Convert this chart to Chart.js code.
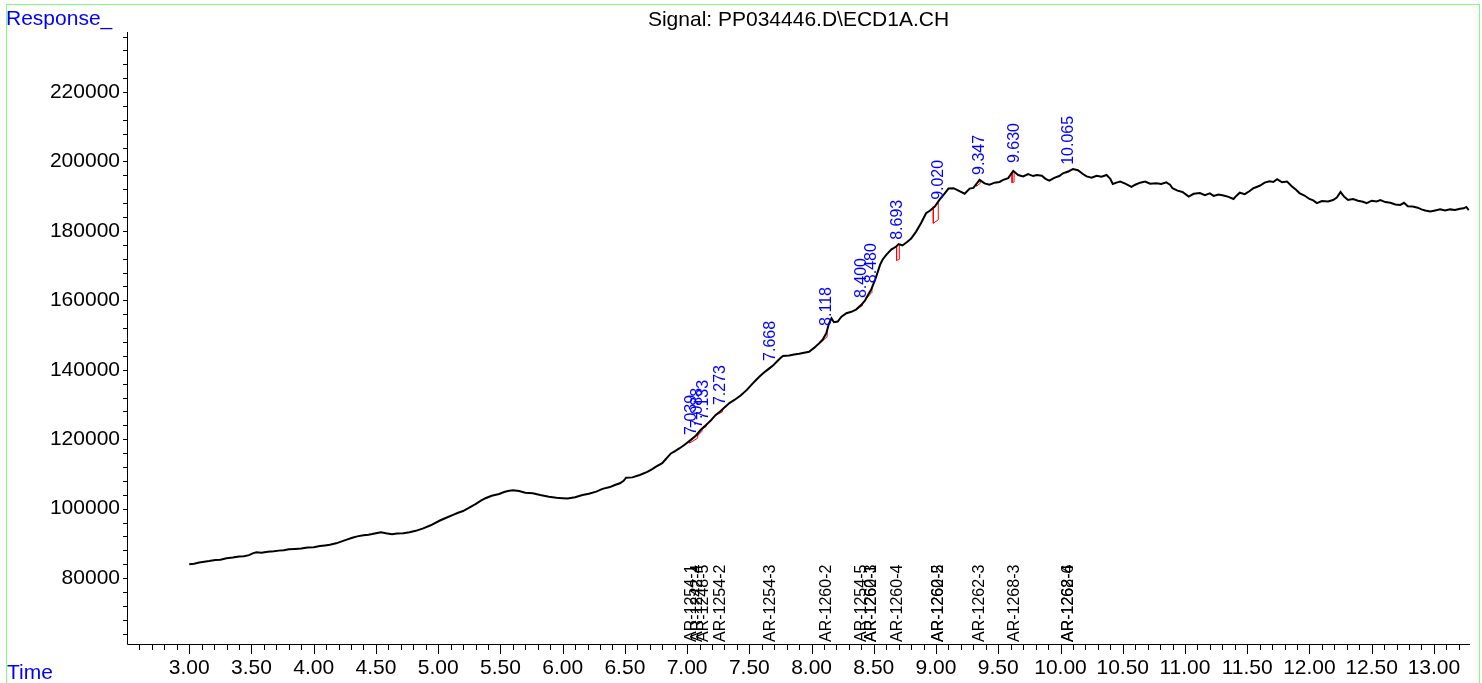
<!DOCTYPE html>
<html>
<head>
<meta charset="utf-8">
<title>Signal: PP034446.D\ECD1A.CH</title>
<script src="https://cdn.jsdelivr.net/npm/chart.js@4.4.1/dist/chart.umd.min.js"></script>
<style>
  html, body { margin: 0; padding: 0; background: #fff; overflow: hidden; }
  #wrap { width: 1482px; height: 683px; position: relative; }
</style>
</head>
<body>
<div id="wrap"><canvas id="myChart"></canvas></div>
<script>
// retention time (min) and detector response
const times = [
  3.00, 3.04, 3.08, 3.12, 3.16, 3.21, 3.25, 3.30, 3.35, 3.40, 3.44, 3.48, 3.51, 3.54, 3.58, 3.63, 3.68, 3.72, 3.76, 3.80,
  3.85, 3.90, 3.95, 4.00, 4.05, 4.09, 4.13, 4.18, 4.22, 4.26, 4.31, 4.35, 4.40, 4.44, 4.47, 4.51, 4.54, 4.58, 4.63, 4.67,
  4.72, 4.77, 4.82, 4.88, 4.94, 5.01, 5.06, 5.12, 5.16, 5.20, 5.25, 5.30, 5.34, 5.38, 5.43, 5.49, 5.53, 5.56, 5.60, 5.65,
  5.70, 5.76, 5.82, 5.89, 5.95, 6.00, 6.04, 6.10, 6.16, 6.21, 6.27, 6.32, 6.38, 6.42, 6.46, 6.49, 6.51, 6.56, 6.62, 6.68,
  6.72, 6.75, 6.80, 6.83, 6.87, 6.90, 6.94, 6.98, 7.03, 7.07, 7.11, 7.15, 7.19, 7.23, 7.27, 7.30, 7.34, 7.38, 7.43, 7.48,
  7.52, 7.55, 7.58, 7.62, 7.66, 7.69, 7.72, 7.75, 7.77, 7.82, 7.86, 7.90, 7.94, 7.98, 8.02, 8.06, 8.09, 8.118, 8.14, 8.16,
  8.18, 8.21, 8.24, 8.28, 8.32, 8.36, 8.40, 8.43, 8.45, 8.48, 8.51, 8.53, 8.55, 8.57, 8.60, 8.64, 8.68, 8.70, 8.73, 8.77,
  8.80, 8.84, 8.88, 8.92, 8.95, 8.99, 9.03, 9.07, 9.10, 9.14, 9.18, 9.23, 9.27, 9.30, 9.32, 9.35, 9.39, 9.43, 9.47, 9.51,
  9.54, 9.58, 9.62, 9.66, 9.70, 9.74, 9.78, 9.81, 9.85, 9.88, 9.91, 9.95, 9.99, 10.02, 10.06, 10.10, 10.14, 10.18, 10.21, 10.25,
  10.29, 10.33, 10.37, 10.40, 10.42, 10.45, 10.48, 10.52, 10.57, 10.60, 10.64, 10.68, 10.72, 10.77, 10.81, 10.85, 10.88, 10.90, 10.94, 10.98,
  11.03, 11.07, 11.12, 11.16, 11.20, 11.23, 11.27, 11.31, 11.35, 11.39, 11.41, 11.44, 11.48, 11.52, 11.55, 11.60, 11.64, 11.68, 11.71, 11.74,
  11.78, 11.82, 11.86, 11.89, 11.92, 11.96, 12.00, 12.03, 12.06, 12.10, 12.15, 12.19, 12.22, 12.25, 12.28, 12.31, 12.35, 12.39, 12.43, 12.46,
  12.50, 12.54, 12.57, 12.61, 12.65, 12.69, 12.73, 12.76, 12.79, 12.83, 12.87, 12.90, 12.93, 12.97, 13.01, 13.05, 13.09, 13.13, 13.17, 13.21,
  13.24, 13.26, 13.28
];
const responses = [
  84000, 84150, 84500, 84700, 84900, 85200, 85300, 85700, 85900, 86200, 86300, 86600, 87100, 87400, 87300, 87600, 87700, 87900, 88000, 88300,
  88400, 88500, 88800, 88900, 89200, 89400, 89600, 90000, 90500, 91000, 91600, 92000, 92300, 92500, 92700, 93000, 93200, 92900, 92600, 92800,
  92900, 93200, 93600, 94300, 95200, 96500, 97300, 98200, 98800, 99300, 100300, 101300, 102200, 103000, 103700, 104200, 104800, 105100, 105300, 105100,
  104600, 104400, 103900, 103400, 103100, 103000, 102900, 103300, 103900, 104300, 104900, 105700, 106200, 106800, 107300, 108000, 108900, 109000, 109700, 110600,
  111400, 112100, 113100, 114300, 115900, 116500, 117400, 118400, 119800, 121000, 122700, 124000, 125400, 127000, 128100, 129100, 130400, 131300, 132600, 134200,
  135800, 136900, 138000, 139300, 140400, 141200, 142300, 143400, 144000, 144100, 144400, 144600, 144900, 145200, 146300, 147600, 148700, 150500, 153300, 154800,
  153700, 153900, 155300, 156300, 156700, 157400, 158700, 160000, 161300, 163200, 165900, 168000, 170200, 171700, 173100, 174600, 175500, 176200, 175800, 176900,
  177800, 179800, 182300, 185100, 185800, 187000, 189100, 190800, 192200, 192300, 191600, 190700, 192200, 192400, 193300, 194700, 193700, 193300, 193900, 194100,
  194700, 195200, 197300, 196100, 195700, 196400, 195800, 196100, 195900, 195000, 194500, 195300, 195800, 196600, 197100, 197800, 197500, 196400, 195700, 195300,
  195900, 195600, 196100, 195000, 193500, 193900, 194200, 193600, 192700, 193300, 193900, 194200, 193600, 193700, 193500, 194000, 193300, 192300, 191600, 191200,
  189900, 190700, 190900, 190300, 190800, 190100, 190500, 190200, 189800, 189200, 190000, 191000, 190600, 191500, 192300, 193000, 193900, 194300, 194100, 194900,
  194000, 194200, 192800, 191900, 190900, 190200, 189200, 188800, 188000, 188600, 188500, 188900, 189600, 191200, 189800, 188900, 189200, 188700, 188400, 188000,
  188700, 188500, 188900, 188300, 188100, 187600, 187500, 188100, 187100, 187000, 186700, 186200, 185900, 185600, 185900, 186200, 185900, 186200, 186000, 186400,
  186500, 186900, 186000
];

// integrated peaks: apex time and apex response
const peakTimes = [7.039, 7.088, 7.133, 7.273, 7.668, 8.118, 8.400, 8.480, 8.693, 9.020, 9.347, 9.630, 10.065];
const peakApex  = [119800, 121800, 124100, 128400, 141100, 151200, 159200, 163500, 176000, 187500, 194700, 198100, 197600];

// integration baselines (red): start/end time, trace value and baseline value
const baseStartT   = [7.020, 7.085, 7.120, 7.235, 7.640, 8.060, 8.375, 8.440, 8.683, 8.978, 9.325, 9.611, 10.045];
const baseStartTop = [119300, 121400, 123100, 127200, 139700, 147600, 157800, 160800, 175500, 187000, 193200, 196800, 196900];
const baseStartV   = [118900, 121000, 122900, 127000, 139600, 147400, 157700, 160500, 171500, 182200, 192900, 193900, 196700];
const baseEndT     = [7.085, 7.120, 7.155, 7.285, 7.675, 8.125, 8.410, 8.485, 8.705, 9.018, 9.355, 9.627, 10.075];
const baseEndV     = [120300, 122300, 123700, 127900, 140600, 149500, 158500, 162300, 171800, 183200, 193700, 194100, 197100];
const baseEndTop   = [121400, 123100, 124300, 128600, 141000, 151500, 159200, 163600, 176100, 188800, 194700, 197300, 197400];

// compound names printed along the time axis
const compoundTimes = [7.039, 7.088, 7.133, 7.273, 7.668, 8.118, 8.400, 8.480, 8.480, 8.693, 9.020, 9.020, 9.347, 9.630, 10.065, 10.065];
const compoundNames = ['AR-1254-1', 'AR-1242-4', 'AR-1248-5', 'AR-1254-2', 'AR-1254-3', 'AR-1260-2', 'AR-1254-5', 'AR-1260-3',
                       'AR-1262-1', 'AR-1260-4', 'AR-1260-5', 'AR-1262-2', 'AR-1262-3', 'AR-1268-3', 'AR-1262-6', 'AR-1268-4'];

// tick labels
const yLabels = [80000, 100000, 120000, 140000, 160000, 180000, 200000, 220000];
const xLabels = [3.0, 3.5, 4.0, 4.5, 5.0, 5.5, 6.0, 6.5, 7.0, 7.5, 8.0, 8.5, 9.0, 9.5, 10.0, 10.5, 11.0, 11.5, 12.0, 12.5, 13.0];

const FONT = '"Liberation Sans", Arial, sans-serif';
Chart.defaults.font.family = FONT;
Chart.defaults.color = '#000';

// trace
const traceData = times.map((t, i) => ({ x: t, y: responses[i] }));

// one red dataset per peak baseline (drop line, baseline, drop line)
const baselineSets = peakTimes.map((p, i) => ({
  data: [
    { x: baseStartT[i], y: baseStartTop[i] },
    { x: baseStartT[i], y: baseStartV[i] },
    { x: baseEndT[i], y: baseEndV[i] },
    { x: baseEndT[i], y: baseEndTop[i] }
  ],
  borderColor: '#ff0000',
  borderWidth: 1,
  pointRadius: 0,
  tension: 0
}));

// axes, ticks, frame and all loose text
const decorations = {
  id: 'decorations',
  afterDraw(chart) {
    const { ctx, chartArea: a, scales: { x, y } } = chart;
    ctx.save();

    // green frame
    ctx.strokeStyle = '#80ff80';
    ctx.lineWidth = 1;
    ctx.strokeRect(6.5, 4.5, 1473, 700);

    // axis lines
    ctx.strokeStyle = '#000';
    ctx.beginPath();
    ctx.moveTo(a.left + 0.5, a.top);
    ctx.lineTo(a.left + 0.5, a.bottom + 0.5);
    ctx.lineTo(a.right, a.bottom + 0.5);

    // y ticks every 4000
    for (let v = 64000; v <= 236000; v += 4000) {
      const py = Math.round(y.getPixelForValue(v)) + 0.5;
      ctx.moveTo(a.left - 4, py);
      ctx.lineTo(a.left, py);
    }
    // x ticks every 0.1 min, longer each 0.5 min
    for (let i = 26; i <= 132; i++) {
      const px = Math.round(x.getPixelForValue(i / 10)) + 0.5;
      const len = i % 5 === 0 ? 10 : 6;
      ctx.moveTo(px, a.bottom);
      ctx.lineTo(px, a.bottom + len);
    }
    ctx.stroke();

    // title and axis captions
    ctx.font = '21px ' + FONT;
    ctx.textBaseline = 'alphabetic';
    ctx.textAlign = 'center';
    ctx.fillStyle = '#000';
    ctx.fillText('Signal: PP034446.D\\ECD1A.CH', (a.left + a.right) / 2, 26);
    ctx.textAlign = 'left';
    ctx.fillStyle = '#0000ff';
    ctx.fillText('Response_', 6, 25);
    ctx.fillText('Time', 7, 679);

    // peak retention times (blue, rotated)
    ctx.font = '16px ' + FONT;
    ctx.textBaseline = 'middle';
    peakTimes.forEach((t, i) => {
      ctx.save();
      ctx.translate(x.getPixelForValue(t), y.getPixelForValue(peakApex[i]) - 5);
      ctx.rotate(-Math.PI / 2);
      ctx.fillStyle = '#0000ff';
      ctx.fillText(t.toFixed(3), 0, 0);
      ctx.restore();
    });

    // compound names (black, rotated, standing on the time axis)
    compoundTimes.forEach((t, i) => {
      ctx.save();
      ctx.translate(x.getPixelForValue(t), a.bottom - 2);
      ctx.rotate(-Math.PI / 2);
      ctx.fillStyle = '#000';
      ctx.fillText(compoundNames[i], 0, 0);
      ctx.restore();
    });

    ctx.restore();
  }
};

const canvas = document.getElementById('myChart');
const myChart = new Chart(canvas.getContext('2d'), {
  type: 'line',
  data: {
    datasets: [{
      data: traceData,
      borderColor: '#000',
      borderWidth: 2,
      pointRadius: 0,
      tension: 0
    }].concat(baselineSets)
  },
  options: {
    responsive: true,
    maintainAspectRatio: false,
    animation: false,
    events: [],
    layout: { padding: { top: 32, right: 12, left: 0, bottom: 0 } },
    plugins: { legend: { display: false }, tooltip: { enabled: false }, title: { display: false } },
    scales: {
      x: {
        type: 'linear',
        min: 2.5,
        max: 13.29,
        grid: { display: false, drawTicks: false },
        border: { display: false },
        afterBuildTicks: scale => { scale.ticks = xLabels.map(v => ({ value: v })); },
        afterFit: scale => { scale.height = 39; },
        ticks: {
          autoSkip: false,
          maxRotation: 0,
          padding: 12,
          font: { size: 21 },
          callback: v => Number(v).toFixed(2)
        }
      },
      y: {
        type: 'linear',
        min: 61000,
        max: 237300,
        grid: { display: false, drawTicks: false },
        border: { display: false },
        afterBuildTicks: scale => { scale.ticks = yLabels.map(v => ({ value: v })); },
        afterFit: scale => { scale.width = 127; },
        ticks: {
          autoSkip: false,
          padding: 7,
          font: { size: 21 },
          callback: v => String(v)
        }
      }
    }
  },
  plugins: [decorations]
});
</script>
</body>
</html>
